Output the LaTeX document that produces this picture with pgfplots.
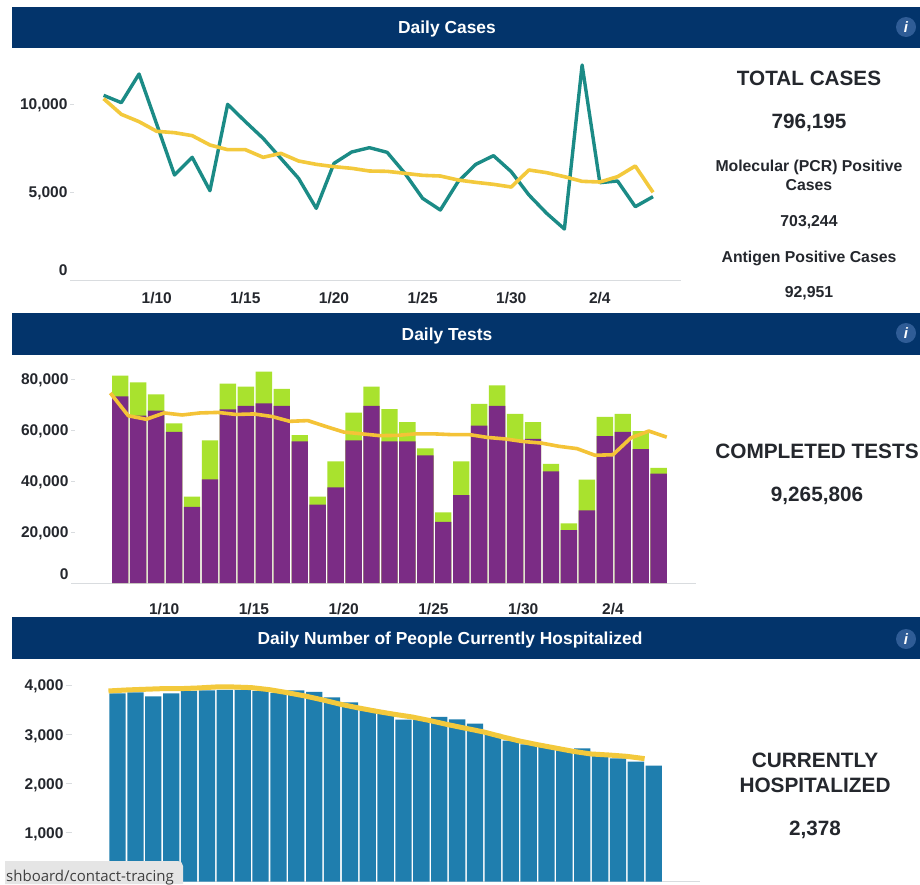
\documentclass[border=0pt]{standalone}
\usepackage{fontspec}
\setmainfont{Liberation Sans}
\newfontfamily\osans{Open Sans}
\usepackage{pgfplots}
\usepackage{pgfplotstable}
\pgfplotsset{compat=1.18}
\definecolor{hdr}{HTML}{03346B}
\definecolor{icon}{HTML}{2F5C96}
\definecolor{teal1}{HTML}{1B8B86}
\definecolor{yel}{HTML}{F3C93C}
\definecolor{pur}{HTML}{7B2C85}
\definecolor{grn}{HTML}{A9E22E}
\definecolor{blu}{HTML}{1F7EAE}
\definecolor{axg}{HTML}{D9DCDF}
\definecolor{txt}{HTML}{24272D}
\pgfplotstableread{
x y
0 10493
1 10076
2 11705
3 8845
4 5966
5 6970
6 5076
7 9981
8 8997
9 8050
10 6913
11 5777
12 4072
13 6629
14 7273
15 7519
16 7254
17 6061
18 4640
19 3977
20 5587
21 6572
22 7065
23 6156
24 4830
25 3788
26 2898
27 12216
28 5530
29 5625
30 4167
31 4735
}\casesdaily
\pgfplotstableread{
x y
0 10303
1 9413
2 8997
3 8447
4 8371
5 8201
6 7671
7 7405
8 7405
9 6970
10 7197
11 6762
12 6572
13 6440
14 6345
15 6193
16 6174
17 6061
18 5947
19 5909
20 5682
21 5549
22 5436
23 5284
24 6250
25 6099
26 5871
27 5606
28 5568
29 5871
30 6477
31 4981
}\casesavg
\pgfplotstableread{
x pcr total
0.55 73200 81300
1.55 65600 78700
2.55 67600 74000
3.55 59300 62600
4.55 29900 33900
5.55 40600 55900
6.55 68100 78200
7.55 69500 77000
8.55 70400 82900
9.55 69500 76100
10.55 55500 58000
11.55 30700 33900
12.55 37500 47700
13.55 55900 66800
14.55 69500 77000
15.55 55500 68200
16.55 55500 63100
17.55 50100 52800
18.55 24000 27700
19.55 34500 47700
20.55 61700 70300
21.55 69500 77500
22.55 55900 66300
23.55 56500 63100
24.55 43800 46700
25.55 20700 23400
26.55 28500 40500
27.55 57600 65200
28.55 59300 66300
29.55 52500 59600
30.55 42900 45200
}\testsbars
\pgfplotstableread{
x y
0 74500
1 65600
2 64200
3 66700
4 65900
5 66700
6 66900
7 66100
8 66300
9 65300
10 63400
11 63700
12 61400
13 59200
14 58500
15 57800
16 57900
17 58500
18 58500
19 58200
20 58200
21 57100
22 56500
23 55500
24 54900
25 53600
26 52700
27 50100
28 50300
29 56900
30 59600
31 57200
}\testsavg
\pgfplotstableread{
x y
0.51 3836
1.51 3857
2.51 3775
3.51 3836
4.51 3884
5.51 3897
6.51 3904
7.51 3904
8.51 3884
9.51 3843
10.51 3897
11.51 3864
12.51 3755
13.51 3653
14.51 3517
15.51 3429
16.51 3300
17.51 3300
18.51 3354
19.51 3307
20.51 3218
21.51 3008
22.51 2872
23.51 2797
24.51 2764
25.51 2696
26.51 2716
27.51 2567
28.51 2512
29.51 2444
30.51 2363
}\hospbars
\pgfplotstableread{
x y
0 3884
1 3904
2 3918
3 3931
4 3931
5 3945
6 3965
7 3965
8 3952
9 3911
10 3850
11 3782
12 3701
13 3612
14 3538
15 3470
16 3409
17 3354
18 3280
19 3198
20 3123
21 3049
22 2954
23 2865
24 2791
25 2723
26 2655
27 2601
28 2580
29 2553
30 2506
}\hospavg
\pgfplotsset{
  dash/.style={
    scale only axis, clip=false, ymin=0,
    scaled ticks=false,
    axis lines=left, axis line style={-},
    y axis line style={draw=none},
    x axis line style={draw=axg,line width=1pt},
    tick align=outside, major tick length=4pt,
    xtick style={draw=none},
    ytick style={draw=axg,line width=1pt},
    tick label style={font=\bfseries\fontsize{15.5}{17}\selectfont,text=txt},
    xtick={3,8,13,18,23,28},
    xticklabels={1/10,1/15,1/20,1/25,1/30,2/4},
    x tick label style={yshift=-5pt},
    y tick label style={xshift=1pt,yshift=-1.5pt},
  }
}
\begin{document}
\begin{tikzpicture}
\useasboundingbox (0,0) rectangle (920pt,-884pt);
\fill[white] (0,0) rectangle (920pt,-884pt);
\fill[hdr] (12pt,-7pt) rectangle (920pt,-48pt);
\fill[hdr] (12pt,-313pt) rectangle (920pt,-355pt);
\fill[hdr] (12pt,-617pt) rectangle (920pt,-659pt);
\begin{axis}[dash, at={(74pt,-280pt)}, anchor=south west,
  width=607pt, height=220pt,
  xmin=-1.67, xmax=32.58, ymax=12500,
  ytick={0,5000,10000},
  yticklabels={\raisebox{23pt}{0},{5,000},{10,000}}]
\addplot[teal1,line width=3.4pt,line join=round] table[x=x,y=y] {\casesdaily};
\addplot[yel,line width=3.6pt,line join=round] table[x=x,y=y] {\casesavg};
\end{axis}
\begin{axis}[dash, at={(75pt,-583pt)}, anchor=south west,
  width=621pt, height=229.5pt,
  xmin=-1.97, xmax=32.63, ymax=90000,
  x tick label style={yshift=-8pt},
  ytick={0,20000,40000,60000,80000},
  yticklabels={\raisebox{21pt}{0},{20,000},{40,000},{60,000},{80,000}},
  ybar, bar width=16.4pt, bar shift=0pt]
\addplot[fill=grn,draw=none] table[x=x,y=total] {\testsbars};
\addplot[fill=pur,draw=none] table[x=x,y=pcr] {\testsbars};
\addplot[sharp plot,yel!92!orange,line width=3.6pt,line join=round] table[x=x,y=y] {\testsavg};
\end{axis}
\begin{axis}[dash, at={(72pt,-881.7pt)}, anchor=south west,
  width=628pt, height=221pt, major tick length=6pt,
  xmin=-2.04, xmax=33.1, ymax=4500,
  xtick=\empty, xticklabels={},
  ytick={1000,2000,3000,4000},
  yticklabels={{1,000},{2,000},{3,000},{4,000}},
  ybar, bar width=16.3pt, bar shift=0pt]
\addplot[fill=blu,draw=none] table[x=x,y=y] {\hospbars};
\addplot[sharp plot,yel,line width=5pt,line join=round] table[x=x,y=y] {\hospavg};
\end{axis}
\begin{scope}[x=1pt,y=-1pt,text=white]
\node[font=\bfseries\fontsize{17.4}{20}\selectfont] at (447,28.5) {Daily Cases};
\node[font=\bfseries\fontsize{17.4}{20}\selectfont] at (447,335.5) {Daily Tests};
\node[font=\bfseries\fontsize{17.4}{20}\selectfont] at (450,639.5) {Daily Number of People Currently Hospitalized};
\foreach \yy in {27,333,639}{
  \fill[icon] (906,\yy) circle (10pt);
  \node[font=\bfseries\itshape\fontsize{15}{16}\selectfont] at (906,\yy) {i};
}
\end{scope}
\begin{scope}[x=1pt,y=-1pt,text=txt]
\node[font=\bfseries\fontsize{20.7}{24}\selectfont] at (809,78.5) {TOTAL CASES};
\node[font=\bfseries\fontsize{20.7}{24}\selectfont] at (809,122.5) {796,195};
\node[font=\bfseries\fontsize{15.8}{18}\selectfont] at (809,167) {Molecular (PCR) Positive};
\node[font=\bfseries\fontsize{15.8}{18}\selectfont] at (809,185) {Cases};
\node[font=\bfseries\fontsize{15.8}{18}\selectfont] at (809,222) {703,244};
\node[font=\bfseries\fontsize{15.8}{18}\selectfont] at (809,258) {Antigen Positive Cases};
\node[font=\bfseries\fontsize{15.8}{18}\selectfont] at (809,293) {92,951};
\node[font=\bfseries\fontsize{20.8}{24}\selectfont] at (817,451) {COMPLETED TESTS};
\node[font=\bfseries\fontsize{20.7}{24}\selectfont] at (817,495.5) {9,265,806};
\node[font=\bfseries\fontsize{20.8}{24}\selectfont] at (815,760.5) {CURRENTLY};
\node[font=\bfseries\fontsize{20.8}{24}\selectfont] at (815,785.5) {HOSPITALIZED};
\node[font=\bfseries\fontsize{20.7}{24}\selectfont] at (815,829.5) {2,378};
\fill[black!10] (5,884) -- (5,861) -- (178,861) arc[start angle=90,end angle=0,radius=5pt] -- (183,884) -- cycle;
\node[anchor=base west,inner sep=0pt,font=\osans\fontsize{15}{18}\selectfont,text=black!75] at (6,881) {shboard/contact-tracing};
\end{scope}
\end{tikzpicture}
\end{document}
